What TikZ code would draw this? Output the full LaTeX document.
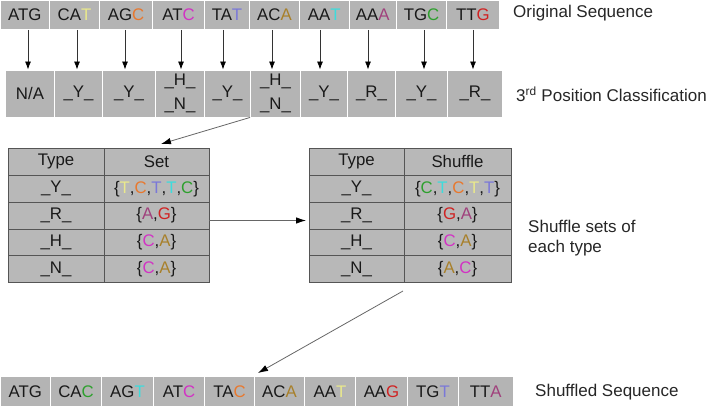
\documentclass[tikz,border=0pt]{standalone}
\usepackage{fontspec}
\setmainfont{Liberation Sans}
\usetikzlibrary{arrows.meta}
\definecolor{boxgray}{HTML}{B4B4B4}
\definecolor{tabgray}{HTML}{B8B8B8}
\definecolor{tabline}{HTML}{555555}
\definecolor{cY}{HTML}{EAE98C}
\definecolor{cO}{HTML}{E8782E}
\definecolor{cM}{HTML}{D232C4}
\definecolor{cP}{HTML}{7A78D8}
\definecolor{cB}{HTML}{A8802A}
\definecolor{cC}{HTML}{3CDCDC}
\definecolor{cV}{HTML}{A0407C}
\definecolor{cG}{HTML}{2EA02E}
\definecolor{cR}{HTML}{D02222}
\newcommand\seqf{\fontsize{16.8}{20}\selectfont}
\newcommand\labf{\fontsize{17}{20}\selectfont}
\newcommand\Y[1]{\textcolor{cY}{#1}}
\newcommand\Or[1]{\textcolor{cO}{#1}}
\newcommand\M[1]{\textcolor{cM}{#1}}
\newcommand\Pu[1]{\textcolor{cP}{#1}}
\newcommand\Br[1]{\textcolor{cB}{#1}}
\newcommand\Cy[1]{\textcolor{cC}{#1}}
\newcommand\Mv[1]{\textcolor{cV}{#1}}
\newcommand\Gr[1]{\textcolor{cG}{#1}}
\newcommand\Rd[1]{\textcolor{cR}{#1}}
\begin{document}
\begin{tikzpicture}[x=1pt,y=-1pt,
  seqbox/.style={fill=boxgray, draw=white, line width=0.9pt, inner sep=0pt, font=\seqf, text=black!90},
  cell/.style={fill=tabgray, draw=tabline, line width=0.8pt, inner sep=0pt, font=\seqf, text=black!90, minimum height=26.8pt},
  lab/.style={anchor=base west, inner sep=0pt, font=\labf, text=black!85},
  varr/.style={draw=black!80, line width=0.8pt, -{Latex[length=8pt,width=6pt,color=black]}},
  darr/.style={draw=black!60, line width=0.8pt, -{Latex[length=10pt,width=6.5pt,color=black]}}]
\useasboundingbox (0,0) rectangle (708,406);
% original sequence
\begin{scope}[every node/.append style={seqbox, minimum height=29.5pt}]
\node[minimum width=49.5pt] (t1) at (24.75,14.75) {ATG};
\node[minimum width=50pt] (t2) at (74.5,14.75) {CA\Y{T}};
\node[minimum width=53pt] (t3) at (126,14.75) {AG\Or{C}};
\node[minimum width=52pt] (t4) at (178.5,14.75) {AT\M{C}};
\node[minimum width=45pt] (t5) at (227,14.75) {TA\Pu{T}};
\node[minimum width=50pt] (t6) at (274.5,14.75) {AC\Br{A}};
\node[minimum width=49.5pt] (t7) at (324.25,14.75) {AA\Cy{T}};
\node[minimum width=47.5pt] (t8) at (372.75,14.75) {AA\Mv{A}};
\node[minimum width=50pt] (t9) at (421.5,14.75) {TG\Gr{C}};
\node[minimum width=53pt] (t10) at (473,14.75) {TT\Rd{G}};
\end{scope}
\node[lab] (lorig) at (513,17.5) {Original Sequence};
% classification
\begin{scope}[every node/.append style={seqbox, minimum height=47pt, align=center}]
\node[minimum width=49pt] (c1) at (30,93.5) {N/A};
\node[minimum width=48pt] (c2) at (78.5,93.5) {\_Y\_};
\node[minimum width=53pt] (c3) at (129,93.5) {\_Y\_};
\node[minimum width=49pt] (c4) at (180,93.5) {\_H\_\\[4pt]\_N\_};
\node[minimum width=46pt] (c5) at (227.5,93.5) {\_Y\_};
\node[minimum width=50pt] (c6) at (275.5,93.5) {\_H\_\\[4pt]\_N\_};
\node[minimum width=47pt] (c7) at (324,93.5) {\_Y\_};
\node[minimum width=48pt] (c8) at (371.5,93.5) {\_R\_};
\node[minimum width=52pt] (c9) at (421.5,93.5) {\_Y\_};
\node[minimum width=55pt] (c10) at (475,93.5) {\_R\_};
\end{scope}
\node[lab] (lcls) at (516,102) {3\textsuperscript{rd} Position Classification};
% vertical arrows
\draw[varr] (t1.south -| 28,0) -- (c1.north -| 28,0);
\draw[varr] (t2.south -| 77,0) -- (c2.north -| 77,0);
\draw[varr] (t3.south -| 125,0) -- (c3.north -| 125,0);
\draw[varr] (t4.south -| 181,0) -- (c4.north -| 181,0);
\draw[varr] (t5.south -| 223,0) -- (c5.north -| 223,0);
\draw[varr] (t6.south -| 272,0) -- (c6.north -| 272,0);
\draw[varr] (t7.south -| 320,0) -- (c7.north -| 320,0);
\draw[varr] (t8.south -| 368,0) -- (c8.north -| 368,0);
\draw[varr] (t9.south -| 424,0) -- (c9.north -| 424,0);
\draw[varr] (t10.south -| 473,0) -- (c10.north -| 473,0);
% left table
\begin{scope}[every node/.append style={cell}]
\node[minimum width=96pt] (L0a) at (56,161.9) {Type};
\node[minimum width=105pt] (L0b) at (156.5,161.9) {Set};
\node[minimum width=96pt] (L1a) at (56,188.7) {\_Y\_};
\node[minimum width=105pt] (L1b) at (156.5,188.7) {\{\Y{T},\Or{C},\Pu{T},\Cy{T},\Gr{C}\}};
\node[minimum width=96pt] (L2a) at (56,215.5) {\_R\_};
\node[minimum width=105pt] (L2b) at (156.5,215.5) {\{\Mv{A},\Rd{G}\}};
\node[minimum width=96pt] (L3a) at (56,242.3) {\_H\_};
\node[minimum width=105pt] (L3b) at (156.5,242.3) {\{\M{C},\Br{A}\}};
\node[minimum width=96pt] (L4a) at (56,269.1) {\_N\_};
\node[minimum width=105pt] (L4b) at (156.5,269.1) {\{\M{C},\Br{A}\}};
% right table
\node[minimum width=95pt] (R0a) at (356.5,161.9) {Type};
\node[minimum width=107pt] (R0b) at (457.5,161.9) {Shuffle};
\node[minimum width=95pt] (R1a) at (356.5,188.7) {\_Y\_};
\node[minimum width=107pt] (R1b) at (457.5,188.7) {\{\Gr{C},\Cy{T},\Or{C},\Y{T},\Pu{T}\}};
\node[minimum width=95pt] (R2a) at (356.5,215.5) {\_R\_};
\node[minimum width=107pt] (R2b) at (457.5,215.5) {\{\Rd{G},\Mv{A}\}};
\node[minimum width=95pt] (R3a) at (356.5,242.3) {\_H\_};
\node[minimum width=107pt] (R3b) at (457.5,242.3) {\{\M{C},\Br{A}\}};
\node[minimum width=95pt] (R4a) at (356.5,269.1) {\_N\_};
\node[minimum width=107pt] (R4b) at (457.5,269.1) {\{\Br{A},\M{C}\}};
\end{scope}
\node[lab] (lsh1) at (528,232) {Shuffle sets of};
\node[lab] (lsh2) at (528,252) {each type};
% shuffled sequence
\begin{scope}[every node/.append style={seqbox, minimum height=29.5pt}]
\node[minimum width=50.5pt] (s1) at (25.25,391.25) {ATG};
\node[minimum width=51pt] (s2) at (76,391.25) {CA\Gr{C}};
\node[minimum width=52pt] (s3) at (127.5,391.25) {AG\Cy{T}};
\node[minimum width=51pt] (s4) at (179,391.25) {AT\M{C}};
\node[minimum width=50pt] (s5) at (229.5,391.25) {TA\Or{C}};
\node[minimum width=50pt] (s6) at (279.5,391.25) {AC\Br{A}};
\node[minimum width=51pt] (s7) at (330,391.25) {AA\Y{T}};
\node[minimum width=52pt] (s8) at (381.5,391.25) {AA\Rd{G}};
\node[minimum width=51pt] (s9) at (433,391.25) {TG\Pu{T}};
\node[minimum width=54.5pt] (s10) at (485.75,391.25) {TT\Mv{A}};
\end{scope}
\node[lab] (lshuf) at (535,396) {Shuffled Sequence};
% connecting arrows
\coordinate (a1) at (161,144);
\draw[darr] (c6.south west) -- (a1);
\coordinate (a2) at (306,220.5);
\draw[darr] ([yshift=-5pt]L2b.east) -- (a2);
\coordinate (b0) at (403,291);
\coordinate (b1) at (258,373);
\draw[darr] (b0) -- (b1);
\end{tikzpicture}
\end{document}
